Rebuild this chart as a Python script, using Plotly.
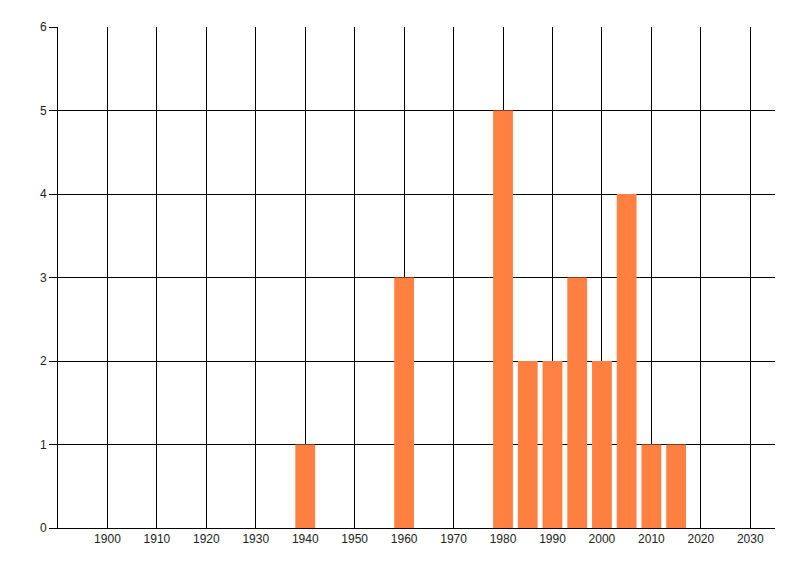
import plotly.graph_objects as go

YEARS = [1940, 1960, 1980, 1985, 1990, 1995, 2000, 2005, 2010, 2015]
COUNTS = [1, 3, 5, 2, 2, 3, 2, 4, 1, 1]
X_TICKS = list(range(1900, 2031, 10))
Y_TICKS = [0, 1, 2, 3, 4, 5, 6]

BAR_COLOR = '#FF8040'

fig = go.Figure(go.Bar(
    x=YEARS,
    y=COUNTS,
    width=4,
    marker=dict(color=BAR_COLOR, line=dict(width=0)),
))

# the page has an 8px body margin, so margins are shifted to compensate
fig.update_layout(
    width=800,
    height=576,
    margin=dict(l=50, r=33, t=19, b=56),
    paper_bgcolor='white',
    plot_bgcolor='white',
    font=dict(family='Liberation Sans, Arial, sans-serif', size=12, color='#222222'),
    showlegend=False,
)

fig.update_xaxes(
    range=[1890, 2035],
    tickvals=X_TICKS,
    ticktext=[str(t) for t in X_TICKS],
    showgrid=True,
    gridcolor='black',
    gridwidth=1,
    showline=True,
    linecolor='black',
    linewidth=1,
    ticks='',
    zeroline=False,
    automargin=False,
)

fig.update_yaxes(
    range=[0, 6],
    tickvals=Y_TICKS,
    showgrid=True,
    gridcolor='black',
    gridwidth=1,
    showline=True,
    linecolor='black',
    linewidth=1,
    ticks='outside',
    ticklen=8,
    tickcolor='black',
    zeroline=False,
    automargin=False,
)

fig.write_html("out.html")
